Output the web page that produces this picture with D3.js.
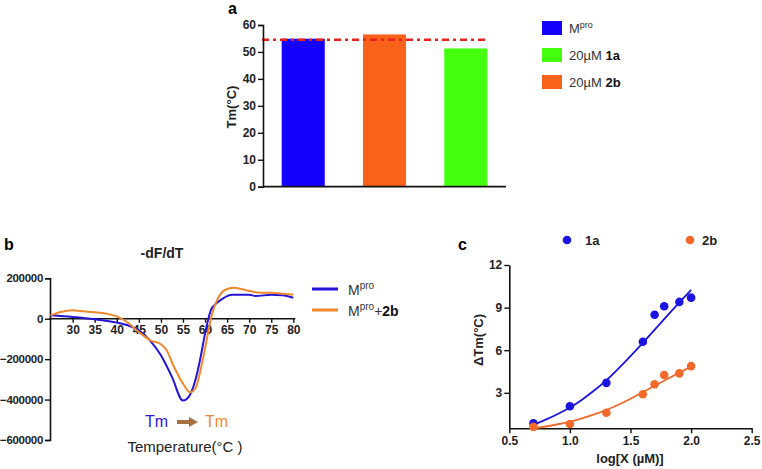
<!DOCTYPE html>
<html><head><meta charset="utf-8">
<script src="https://cdn.jsdelivr.net/npm/d3@7"></script>
<style>
body{margin:0;background:#fff;}
svg{display:block;font-family:"Liberation Sans",Arial,sans-serif;}
.tick text{font-weight:bold;fill:#222;}
</style></head><body>
<svg id="c" width="762" height="469"></svg>
<script>
// ---- Panel a data ----
const barCategories = ["Mpro", "20µM 2b", "20µM 1a"];
const barValues = [54.9, 56.5, 51.3];
const barColors = ["#1500ff", "#f8621b", "#44ff0d"];
const refLine = 54.5;
const aTicks = [0, 10, 20, 30, 40, 50, 60];

// ---- Panel b data ----
const tempBlue = [25, 30, 35, 40, 42.5, 45, 47.5, 50, 52.5, 55, 56.3, 57.8, 59, 60, 61.3, 62.5, 64, 65, 66.2, 70, 71.5, 75, 77.5, 80];
const dfBlue = [16800, 8400, -3000, -19300, -32600, -57300, -106700, -180700, -287800, -405000, -386600, -304200, -189000, -73600, 41500, 74600, 99300, 112200, 118800, 118800, 112000, 119000, 115600, 104000];
const tempOrange = [25, 27.3, 30, 32.4, 35, 37.6, 40, 42.3, 45, 47.6, 50, 51.3, 52.8, 55, 56.6, 57.8, 59.3, 60.5, 61.6, 62.7, 63.9, 65.2, 66.5, 68, 70.2, 72.5, 75, 77.5, 80];
const dfOrange = [16800, 33300, 41500, 36500, 31600, 25000, 11800, -16300, -65700, -106700, -126400, -156000, -230000, -320600, -364000, -345000, -222000, -90300, 25000, 90900, 132000, 148600, 153500, 148600, 136800, 128900, 128900, 124000, 119000];
const bXTicks = [30, 35, 40, 45, 50, 55, 60, 65, 70, 75, 80];
const bYTicks = [200000, 0, -200000, -400000, -600000];

// ---- Panel c data ----
const logX = [0.699, 1.0, 1.301, 1.602, 1.699, 1.778, 1.903, 2.0];
const dTm1a = [0.85, 2.05, 3.7, 6.6, 8.5, 9.1, 9.4, 9.7];
const dTm2b = [0.6, 0.8, 1.6, 2.9, 3.6, 4.25, 4.37, 4.88];
const fitX = [0.7, 0.8, 0.9, 1.0, 1.1, 1.2, 1.3, 1.4, 1.5, 1.6, 1.7, 1.8, 1.9, 2.0];
const fit1a = [0.75, 1.1, 1.5, 1.95, 2.5, 3.15, 3.85, 4.7, 5.58, 6.5, 7.45, 8.4, 9.33, 10.25];
const fit2b = [0.5, 0.62, 0.78, 0.97, 1.2, 1.47, 1.78, 2.15, 2.58, 3.03, 3.5, 3.95, 4.4, 4.85];
const cXTicks = [0.5, 1.0, 1.5, 2.0, 2.5];
const cYTicks = [3, 6, 9, 12];

const svg = d3.select("#c");

function styleAxis(g, fs) {
  g.selectAll(".domain").attr("stroke", "#111").attr("stroke-width", 1.6);
  g.selectAll(".tick line").attr("stroke", "#111").attr("stroke-width", 1.4);
  g.selectAll(".tick text").style("font-size", fs + "px");
}

// ================= Panel a =================
{
  const x = d3.scaleBand().domain(barCategories).range([263, 506]).paddingInner(0.47).paddingOuter(0.23);
  const y = d3.scaleLinear().domain([0, 60]).range([186.7, 25]);
  const g = svg.append("g");
  g.selectAll("rect.bar").data(barValues).join("rect")
    .attr("x", (d, i) => x(barCategories[i])).attr("width", x.bandwidth())
    .attr("y", d => y(d)).attr("height", d => y(0) - y(d))
    .attr("fill", (d, i) => barColors[i]);
  g.append("line").attr("x1", 262).attr("x2", 486).attr("y1", y(refLine)).attr("y2", y(refLine))
    .attr("stroke", "#e8221c").attr("stroke-width", 2.5).attr("stroke-dasharray", "7,4,3,4");
  const ya = g.append("g").attr("transform", "translate(263,0)")
    .call(d3.axisLeft(y).tickValues(aTicks).tickSize(5).tickPadding(2).tickFormat(d3.format("d")));
  styleAxis(ya, 12);
  g.append("line").attr("x1", 263).attr("x2", 506).attr("y1", y(0)).attr("y2", y(0)).attr("stroke", "#111").attr("stroke-width", 1.8);
  g.append("text").attr("transform", "translate(236,107) rotate(-90)").attr("text-anchor", "middle")
    .style("font-size", "13px").style("font-weight", "bold").attr("fill", "#222").text("Tm(°C)");
  g.append("text").attr("x", 228).attr("y", 14).style("font-size", "16px").style("font-weight", "bold").text("a");
  // legend
  const leg = [
    {c: barColors[0], t: [["M", {}], ["pro", {sup: true}]]},
    {c: barColors[2], t: [["20µM ", {}], ["1a", {bold: true}]]},
    {c: barColors[1], t: [["20µM ", {}], ["2b", {bold: true}]]}
  ];
  leg.forEach((L, i) => {
    const cy = 28 + i * 27;
    g.append("rect").attr("x", 542).attr("y", cy - 7).attr("width", 20).attr("height", 14).attr("fill", L.c);
    const t = g.append("text").attr("x", 569).attr("y", cy + 5).style("font-size", "13px").attr("fill", "#333");
    L.t.forEach(([s, o]) => {
      const sp = t.append("tspan").text(s);
      if (o.bold) sp.style("font-weight", "bold").attr("fill", "#111");
      if (o.sup) sp.attr("dy", -5).style("font-size", "9px");
    });
  });
}

// ================= Panel b =================
{
  const x = d3.scaleLinear().domain([25, 80]).range([50.6, 293.3]);
  const y = d3.scaleLinear().domain([-600000, 200000]).range([440, 278.3]);
  const g = svg.append("g");
  const ya = g.append("g").attr("transform", "translate(50,0)")
    .call(d3.axisLeft(y).tickValues(bYTicks).tickSize(5).tickPadding(2).tickFormat(d3.format("d")));
  styleAxis(ya, 11.5);
  ya.selectAll(".tick text").style("letter-spacing", "-0.3px");
  const xa = g.append("g").attr("transform", `translate(0,${y(0)})`)
    .call(d3.axisBottom(x).tickValues(bXTicks).tickSize(4).tickPadding(3).tickSizeOuter(0));
  styleAxis(xa, 12);
  xa.select(".domain").attr("d", `M${x(25) - 1},0H${x(80) + 2}`);
  const line = d3.line().x(d => x(d[0])).y(d => y(d[1])).curve(d3.curveMonotoneX);
  g.append("path").datum(tempBlue.map((t, i) => [t, dfBlue[i]])).attr("d", line)
    .attr("fill", "none").attr("stroke", "#2314d8").attr("stroke-width", 2);
  g.append("path").datum(tempOrange.map((t, i) => [t, dfOrange[i]])).attr("d", line)
    .attr("fill", "none").attr("stroke", "#f0882c").attr("stroke-width", 2);
  g.append("text").attr("x", 4).attr("y", 250).style("font-size", "16px").style("font-weight", "bold").text("b");
  g.append("text").attr("x", 162).attr("y", 258).attr("text-anchor", "middle")
    .style("font-size", "14px").style("font-weight", "bold").attr("fill", "#222").text("-dF/dT");
  // legend
  g.append("line").attr("x1", 312).attr("x2", 338).attr("y1", 289).attr("y2", 289).attr("stroke", "#2314d8").attr("stroke-width", 3);
  g.append("line").attr("x1", 312).attr("x2", 338).attr("y1", 310).attr("y2", 310).attr("stroke", "#f0882c").attr("stroke-width", 3);
  const t1 = g.append("text").attr("x", 348).attr("y", 295).style("font-size", "14px").attr("fill", "#333");
  t1.append("tspan").text("M");
  t1.append("tspan").attr("dy", -6).style("font-size", "10px").text("pro");
  const t2 = g.append("text").attr("x", 348).attr("y", 316).style("font-size", "14px").attr("fill", "#333");
  t2.append("tspan").text("M");
  t2.append("tspan").attr("dy", -6).style("font-size", "10px").text("pro");
  t2.append("tspan").attr("dy", 6).text("+");
  t2.append("tspan").style("font-weight", "bold").attr("fill", "#111").text("2b");
  // Tm arrow
  g.append("text").attr("x", 145).attr("y", 427).style("font-size", "16px").attr("fill", "#2a1ad8").text("Tm");
  g.append("text").attr("x", 205).attr("y", 427).style("font-size", "16px").attr("fill", "#ef8a32").text("Tm");
  g.append("line").attr("x1", 177).attr("x2", 190).attr("y1", 422).attr("y2", 422).attr("stroke", "#a8703f").attr("stroke-width", 4);
  g.append("path").attr("d", "M189,417L198,422L189,427Z").attr("fill", "#a8703f");
  g.append("text").attr("x", 185).attr("y", 452).attr("text-anchor", "middle")
    .style("font-size", "15px").attr("fill", "#222").text("Temperature(°C )");
}

// ================= Panel c =================
{
  const x = d3.scaleLinear().domain([0.5, 2.5]).range([509.3, 751.7]);
  const y = d3.scaleLinear().domain([0.5, 12]).range([428.3, 265]);
  const g = svg.append("g");
  const ya = g.append("g").attr("transform", "translate(509.3,0)")
    .call(d3.axisLeft(y).tickValues(cYTicks).tickSize(5).tickPadding(2).tickSizeOuter(0));
  styleAxis(ya, 12);
  const xa = g.append("g").attr("transform", "translate(0,428.3)")
    .call(d3.axisBottom(x).tickValues(cXTicks).tickSize(5).tickPadding(3).tickSizeOuter(0).tickFormat(d3.format(".1f")));
  styleAxis(xa, 12);
  const line = d3.line().x(d => x(d[0])).y(d => y(d[1])).curve(d3.curveBasis);
  g.append("path").datum(fitX.map((v, i) => [v, fit1a[i]])).attr("d", line)
    .attr("fill", "none").attr("stroke", "#1c14e0").attr("stroke-width", 1.8);
  g.append("path").datum(fitX.map((v, i) => [v, fit2b[i]])).attr("d", line)
    .attr("fill", "none").attr("stroke", "#f2692a").attr("stroke-width", 1.8);
  g.selectAll("circle.a").data(dTm1a).join("circle").attr("class", "a")
    .attr("cx", (d, i) => x(logX[i])).attr("cy", d => y(d)).attr("r", 4.3).attr("fill", "#1c14e0");
  g.selectAll("circle.b").data(dTm2b).join("circle").attr("class", "b")
    .attr("cx", (d, i) => x(logX[i])).attr("cy", d => y(d)).attr("r", 4.3).attr("fill", "#f2692a");
  g.append("text").attr("x", 458).attr("y", 250).style("font-size", "16px").style("font-weight", "bold").text("c");
  g.append("text").attr("transform", "translate(483,340) rotate(-90)").attr("text-anchor", "middle")
    .style("font-size", "13px").style("font-weight", "bold").attr("fill", "#222").text("ΔTm(°C)");
  g.append("text").attr("x", 630).attr("y", 463).attr("text-anchor", "middle")
    .style("font-size", "13px").style("font-weight", "bold").attr("fill", "#222").text("log[X (µM)]");
  g.append("circle").attr("cx", 567).attr("cy", 240).attr("r", 4.3).attr("fill", "#1c14e0");
  g.append("text").attr("x", 585).attr("y", 245).style("font-size", "13px").style("font-weight", "bold").attr("fill", "#222").text("1a");
  g.append("circle").attr("cx", 690).attr("cy", 240).attr("r", 4.3).attr("fill", "#f2692a");
  g.append("text").attr("x", 702).attr("y", 245).style("font-size", "13px").style("font-weight", "bold").attr("fill", "#222").text("2b");
}
</script></body></html>
